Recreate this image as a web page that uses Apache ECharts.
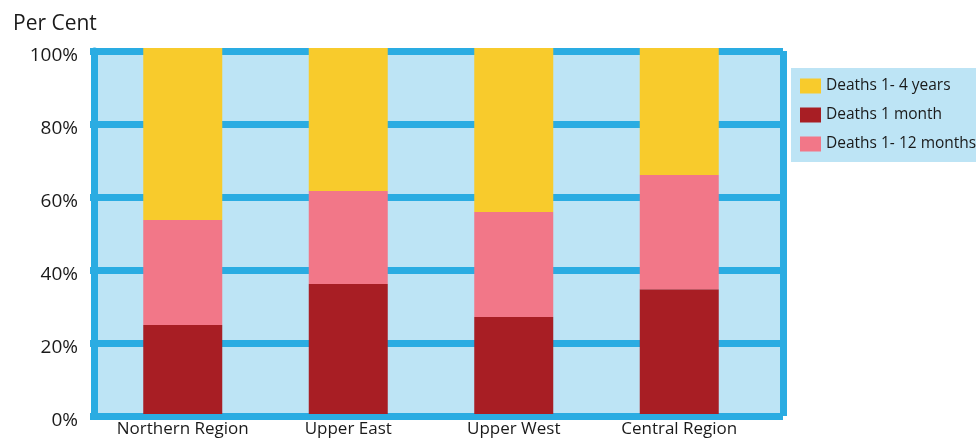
<!DOCTYPE html>
<html><head><meta charset="utf-8">
<script src="https://cdn.jsdelivr.net/npm/echarts@6/dist/echarts.min.js"></script>
<style>html,body{margin:0;padding:0;background:#fff}#c{width:976px;height:439px}</style>
</head><body><div id="c"></div>
<script>
var categories = ['Northern Region', 'Upper East', 'Upper West', 'Central Region'];
var deaths1Month = [24.3, 35.5, 26.5, 34.1];
var deaths1to12Months = [28.7, 25.4, 28.7, 31.2];
var deaths1to4Years = [47.0, 39.1, 44.8, 34.7];
var yTicks = [0, 20, 40, 60, 80, 100];

var FONT = 'Open Sans';
var BLUE = '#2aace2';
var chart = echarts.init(document.getElementById('c'));
chart.setOption({
  animation: false,
  textStyle: { fontFamily: FONT },
  title: { text: 'Per Cent', left: 8, top: 9, textStyle: { fontSize: 21, fontWeight: 'normal', color: '#1a1a1a', fontFamily: FONT } },
  legend: {
    data: ['Deaths 1- 4 years', 'Deaths 1 month', 'Deaths 1- 12 months'],
    orient: 'vertical', left: 791, top: 68,
    backgroundColor: '#bde4f5',
    padding: [10, 20, 10, 9],
    itemWidth: 21, itemHeight: 15, itemGap: 13,
    icon: 'rect',
    textStyle: { fontSize: 15.5, color: '#1a1a1a', fontFamily: FONT }
  },
  grid: [
    { left: 94, right: 193, top: 51, bottom: 23, show: true, backgroundColor: '#bde4f5', borderWidth: 0, outerBoundsMode: 'none', containLabel: false },
    { left: 100, right: 214, top: 48, bottom: 25, outerBoundsMode: 'none', containLabel: false }
  ],
  xAxis: [
    { gridIndex: 0, type: 'value', min: 0, max: 1, interval: 1,
      axisLabel: { show: false }, axisTick: { show: false }, axisLine: { show: false },
      splitLine: { show: true, lineStyle: { color: BLUE, width: 7 } } },
    { gridIndex: 1, type: 'category', data: categories,
      axisLine: { show: false }, axisTick: { show: false },
      axisLabel: { interval: 0, fontSize: 17, color: '#1a1a1a', margin: 7, fontFamily: FONT } }
  ],
  yAxis: [
    { gridIndex: 0, type: 'value', min: 0, max: 100, interval: 20,
      axisLine: { show: true, lineStyle: { color: BLUE, width: 7 } },
      axisTick: { show: true, length: 4, lineStyle: { color: BLUE, width: 7 } },
      axisLabel: { formatter: function (v) { return yTicks.indexOf(v) >= 0 ? v + '%' : ''; }, fontSize: 19, color: '#1a1a1a', margin: 16, verticalAlign: 'top', lineHeight: 10, fontFamily: FONT },
      splitLine: { show: true, lineStyle: { color: BLUE, width: 7 } } },
    { gridIndex: 1, type: 'value', min: 0, max: 100, show: false, splitLine: { show: false } }
  ],
  series: [
    { name: 'Deaths 1 month', type: 'bar', stack: 's', xAxisIndex: 1, yAxisIndex: 1, barWidth: 79, data: deaths1Month, itemStyle: { color: '#a81e24' } },
    { name: 'Deaths 1- 12 months', type: 'bar', stack: 's', xAxisIndex: 1, yAxisIndex: 1, barWidth: 79, data: deaths1to12Months, itemStyle: { color: '#f27788' } },
    { name: 'Deaths 1- 4 years', type: 'bar', stack: 's', xAxisIndex: 1, yAxisIndex: 1, barWidth: 79, data: deaths1to4Years, itemStyle: { color: '#f8cb2c' } }
  ]
});
</script></body></html>
